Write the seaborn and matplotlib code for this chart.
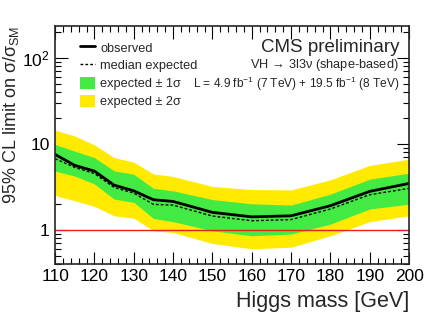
import matplotlib
matplotlib.use("Agg")
import matplotlib.pyplot as plt
import matplotlib.ticker as mticker
from matplotlib.lines import Line2D
from matplotlib.patches import Patch
import pandas as pd
import seaborn as sns


# Higgs mass points [GeV]
masses = [110, 115, 120, 125, 130, 135, 140, 150, 160, 170, 180, 190, 200]

# limits
observed = [7.5, 5.6, 4.8, 3.3, 2.83, 2.23, 2.13, 1.59, 1.41, 1.45, 1.90, 2.79, 3.45]
expected = [6.7, 5.3, 4.5, 3.1, 2.66, 1.97, 1.93, 1.44, 1.27, 1.31, 1.74, 2.55, 3.02]
minus2 = [2.5, 2.17, 1.87, 1.45, 1.36, 0.97, 0.93, 0.69, 0.60, 0.625, 0.85, 1.24, 1.45]
minus1 = [4.8, 4.2, 3.4, 2.27, 2.08, 1.35, 1.24, 0.97, 0.85, 0.89, 1.16, 1.74, 1.98]
plus1 = [9.8, 8.2, 6.9, 4.83, 4.42, 3.03, 2.83, 2.24, 2.0, 1.93, 2.59, 3.87, 4.54]
plus2 = [14.4, 12.3, 9.7, 6.9, 6.1, 4.45, 4.16, 3.18, 2.93, 2.9, 3.8, 5.6, 6.6]

df = pd.DataFrame({
    "mass": masses,
    "observed": observed,
    "expected": expected,
})

GREEN = "#44ea44"
YELLOW = "#ffea00"

sns.set_style("ticks")
plt.rcParams["font.family"] = ["Liberation Sans", "DejaVu Sans"]
plt.rcParams["mathtext.fontset"] = "custom"
plt.rcParams["mathtext.rm"] = "Liberation Sans"
plt.rcParams["mathtext.it"] = "Liberation Sans"

fig = plt.figure(figsize=(4.27, 3.27), dpi=100)
ax = fig.add_axes([0.129, 0.193, 0.829, 0.728])

ax.fill_between(masses, minus2, plus2, color=YELLOW, lw=0)
ax.fill_between(masses, minus1, plus1, color=GREEN, lw=0)
ax.axhline(1, color="#e8201c", lw=1)
sns.lineplot(data=df, x="mass", y="expected", ax=ax, color="black",
             lw=1.0, linestyle=(0, (2, 1.5)))
sns.lineplot(data=df, x="mass", y="observed", ax=ax, color="black", lw=2.0)

ax.set_yscale("log")
ax.set_xlim(110, 200)
ax.set_ylim(0.4, 235)

ax.xaxis.set_major_locator(mticker.MultipleLocator(10))
ax.xaxis.set_minor_locator(mticker.MultipleLocator(2))
ax.yaxis.set_major_locator(mticker.LogLocator(base=10))
ax.yaxis.set_minor_locator(mticker.LogLocator(base=10, subs=range(2, 10)))
ax.yaxis.set_minor_formatter(mticker.NullFormatter())
ax.yaxis.set_major_formatter(mticker.FuncFormatter(
    lambda v, _: {1: "1", 10: "10", 100: r"$10^{2}$"}.get(round(v), "")))

ax.tick_params(which="both", direction="in", top=True, right=True,
               labelsize=12.5, width=0.8, colors="black")
ax.tick_params(which="major", length=9, pad=4)
ax.tick_params(which="minor", length=4.5)
for side in ax.spines.values():
    side.set_linewidth(1.2)

ax.set_xlabel("Higgs mass [GeV]", fontsize=15.5, loc="right", labelpad=5)
ax.set_ylabel(r"95% CL limit on $\sigma/\sigma_{SM}$", fontsize=13,
              loc="top", labelpad=1)

handles = [
    Line2D([], [], color="black", lw=2),
    Line2D([], [], color="black", lw=1, linestyle=(0, (2, 1.5))),
    Patch(color=GREEN, lw=0),
    Patch(color=YELLOW, lw=0),
]
labels = ["observed", "median expected", "expected ± 1σ", "expected ± 2σ"]
ax.legend(handles, labels, loc="upper left", bbox_to_anchor=(0.07, 0.935),
          frameon=False, fontsize=9.2, handlelength=1.15, handleheight=1.05,
          handletextpad=0.45, labelspacing=0.36, borderpad=0,
          borderaxespad=0)

ax.text(0.972, 0.908, "CMS preliminary", transform=ax.transAxes, ha="right",
        va="center", fontsize=13.5)
ax.text(0.972, 0.836, r"VH$\,\rightarrow\,$3l3$\nu$ (shape-based)",
        transform=ax.transAxes, ha="right", va="center", fontsize=9.2)
ax.text(0.972, 0.756,
        r"L = 4.9 fb$^{-1}$ (7 TeV) + 19.5 fb$^{-1}$ (8 TeV)",
        transform=ax.transAxes, ha="right", va="center", fontsize=8.6)

fig.savefig("out.png", dpi=100)
